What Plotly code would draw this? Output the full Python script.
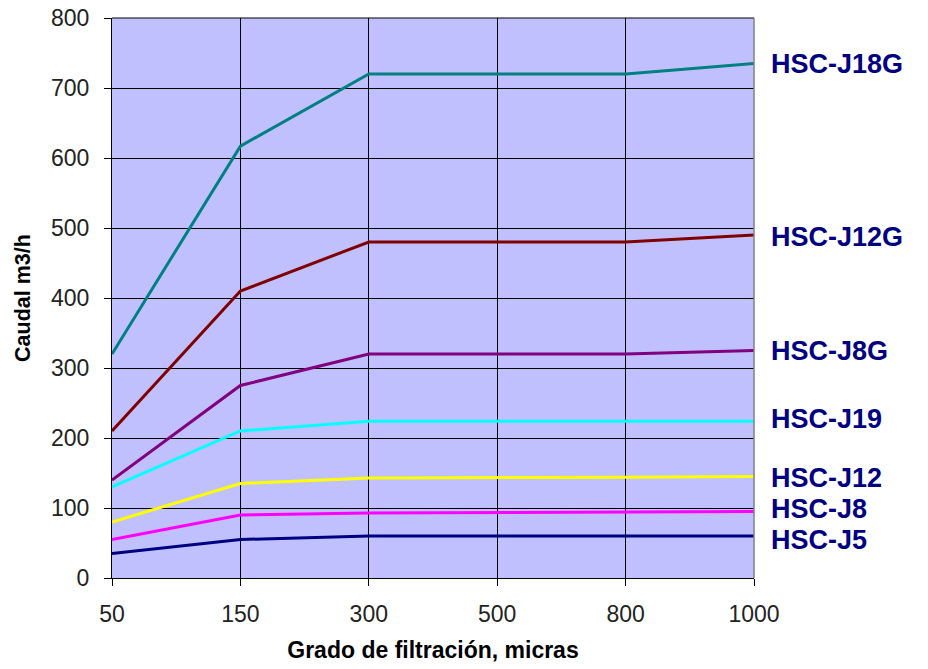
import plotly.graph_objects as go

categories = ["50", "150", "300", "500", "800", "1000"]
series_names = ["HSC-J18G", "HSC-J12G", "HSC-J8G", "HSC-J19", "HSC-J12", "HSC-J8", "HSC-J5"]
j18g = [320, 617, 720, 720, 720, 735]
j12g = [210, 410, 480, 480, 480, 490]
j8g = [140, 275, 320, 320, 320, 325]
j19 = [130, 210, 224, 224, 224, 224]
j12 = [80, 135, 143, 143, 144, 145]
j8 = [55, 90, 93, 94, 94, 95]
j5 = [35, 55, 60, 60, 60, 60]
series_values = [j18g, j12g, j8g, j19, j12, j8, j5]
y_ticks = [0, 100, 200, 300, 400, 500, 600, 700, 800]

colors = ["#008080", "#800000", "#800080", "#00FFFF", "#FFFF00", "#FF00FF", "#000080"]
label_shift = [0, -2, 0, 2, -1, 3, -4]

fig = go.Figure()
for name, vals, col in zip(series_names, series_values, colors):
    fig.add_trace(go.Scatter(x=categories, y=vals, mode="lines", name=name,
                             line=dict(color=col, width=3), showlegend=False))

for name, vals, sh in zip(series_names, series_values, label_shift):
    fig.add_annotation(x=1, xref="paper", y=vals[-1], yref="y", text=f"<b>{name}</b>",
                       showarrow=False, xanchor="left", xshift=15, yshift=sh,
                       font=dict(family="Liberation Sans, Arial", size=27, color="#000080"))

# plot frame: black top, grey right
fig.add_shape(type="line", xref="paper", yref="paper", x0=0, x1=1, y0=1, y1=1,
              line=dict(color="black", width=1))
fig.add_shape(type="line", xref="paper", yref="paper", x0=1, x1=1, y0=0, y1=1,
              line=dict(color="#808080", width=1.5))

fig.update_layout(
    width=928, height=669,
    margin=dict(l=112, r=174, t=18, b=91),
    paper_bgcolor="white", plot_bgcolor="#C0C0FF",
    font=dict(family="Liberation Sans, Arial", size=23, color="#222222"),
    xaxis=dict(type="category", range=[0, 5], showgrid=True, gridcolor="black", gridwidth=1,
               ticks="outside", ticklen=7, tickcolor="black", showline=True, linecolor="black",
               linewidth=1, automargin=False, ticklabelstandoff=8,
               title=dict(text="<b>Grado de filtración, micras</b>",
                          font=dict(size=23, color="black"), standoff=16)),
    yaxis=dict(range=[0, 800], tickvals=y_ticks, showgrid=True, gridcolor="black", gridwidth=1,
               ticks="outside", ticklen=7, tickcolor="black", showline=True, linecolor="black",
               linewidth=1, zeroline=False, automargin=False, ticklabelstandoff=10,
               title=dict(text="<b>Caudal m3/h</b>", font=dict(size=21.5, color="black"), standoff=14)),
)

fig.write_html("out.html", config={"displayModeBar": False},
               post_script="document.body.style.margin='0';")
